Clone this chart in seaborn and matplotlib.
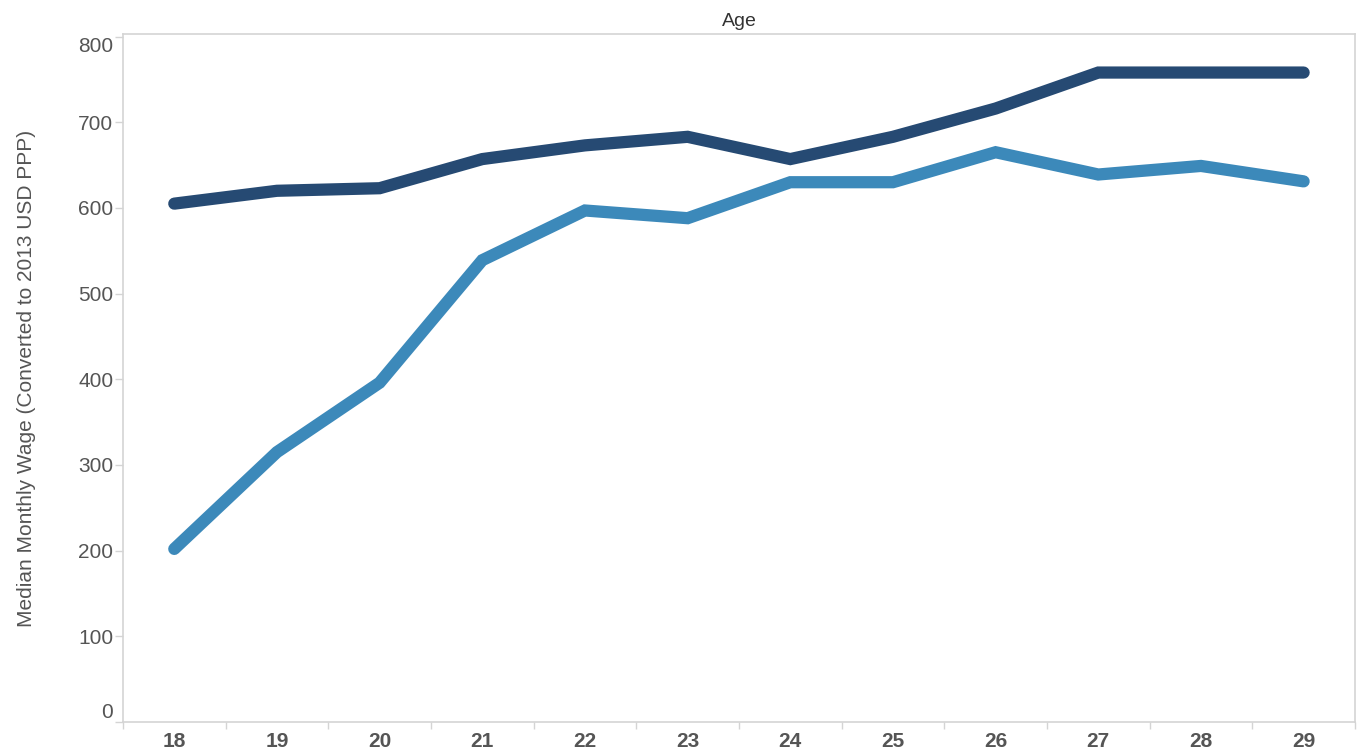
import pandas as pd
import numpy as np
import seaborn as sns
import matplotlib.pyplot as plt
from matplotlib.ticker import FixedLocator

# Data
ages = [18, 19, 20, 21, 22, 23, 24, 25, 26, 27, 28, 29]
wage_dark = [605, 620, 623, 657, 673, 683, 657, 683, 716, 758, 758, 758]
wage_light = [202, 315, 396, 539, 597, 588, 630, 630, 665, 639, 649, 631]
y_ticks = [0, 100, 200, 300, 400, 500, 600, 700, 800]

df = pd.concat([
    pd.DataFrame({"Age": ages, "Wage": wage_dark, "Group": "dark"}),
    pd.DataFrame({"Age": ages, "Wage": wage_light, "Group": "light"}),
])

sns.set_theme(style="white")
plt.rcParams["font.family"] = ["Liberation Sans", "DejaVu Sans"]

fig = plt.figure(figsize=(13.57, 7.52), dpi=100)
ax = fig.add_axes([0.0906, 0.0399, 0.9079, 0.9149])

sns.lineplot(data=df, x="Age", y="Wage", hue="Group",
             palette={"dark": "#264a73", "light": "#3c89ba"},
             linewidth=8.8, legend=False, ax=ax,
             solid_capstyle="round", solid_joinstyle="miter")

ax.set_xlim(17.5, 29.5)
ax.set_ylim(0, 803)

grey = "#d4d4d4"
for s in ax.spines.values():
    s.set_color(grey)
    s.set_linewidth(1.2)

ax.set_yticks(y_ticks)
ax.set_yticklabels([str(v) for v in y_ticks], fontsize=15, color="#555555")
ax.tick_params(axis="y", length=5.5, width=1, color=grey, pad=1.5, left=True)
# keep the end labels inside the axis range, like the original
ylabels = ax.get_yticklabels()
ylabels[0].set_verticalalignment("bottom")
ylabels[-1].set_verticalalignment("top")

ax.set_xticks(ages)
ax.set_xticklabels([str(a) for a in ages], fontsize=15, color="#555555",
                   fontweight="bold")
ax.xaxis.set_minor_locator(FixedLocator([a - 0.5 for a in ages] + [29.5]))
ax.tick_params(axis="x", which="major", length=0, pad=7, bottom=True)
ax.tick_params(axis="x", which="minor", length=5, width=1, color=grey,
               bottom=True)

ax.set_xlabel("")
ax.set_ylabel("Median Monthly Wage (Converted to 2013 USD PPP)",
              fontsize=15, color="#555555", labelpad=30)
ax.set_title("Age", fontsize=14, color="#333333", pad=6)

fig.savefig("out.png", dpi=100)
